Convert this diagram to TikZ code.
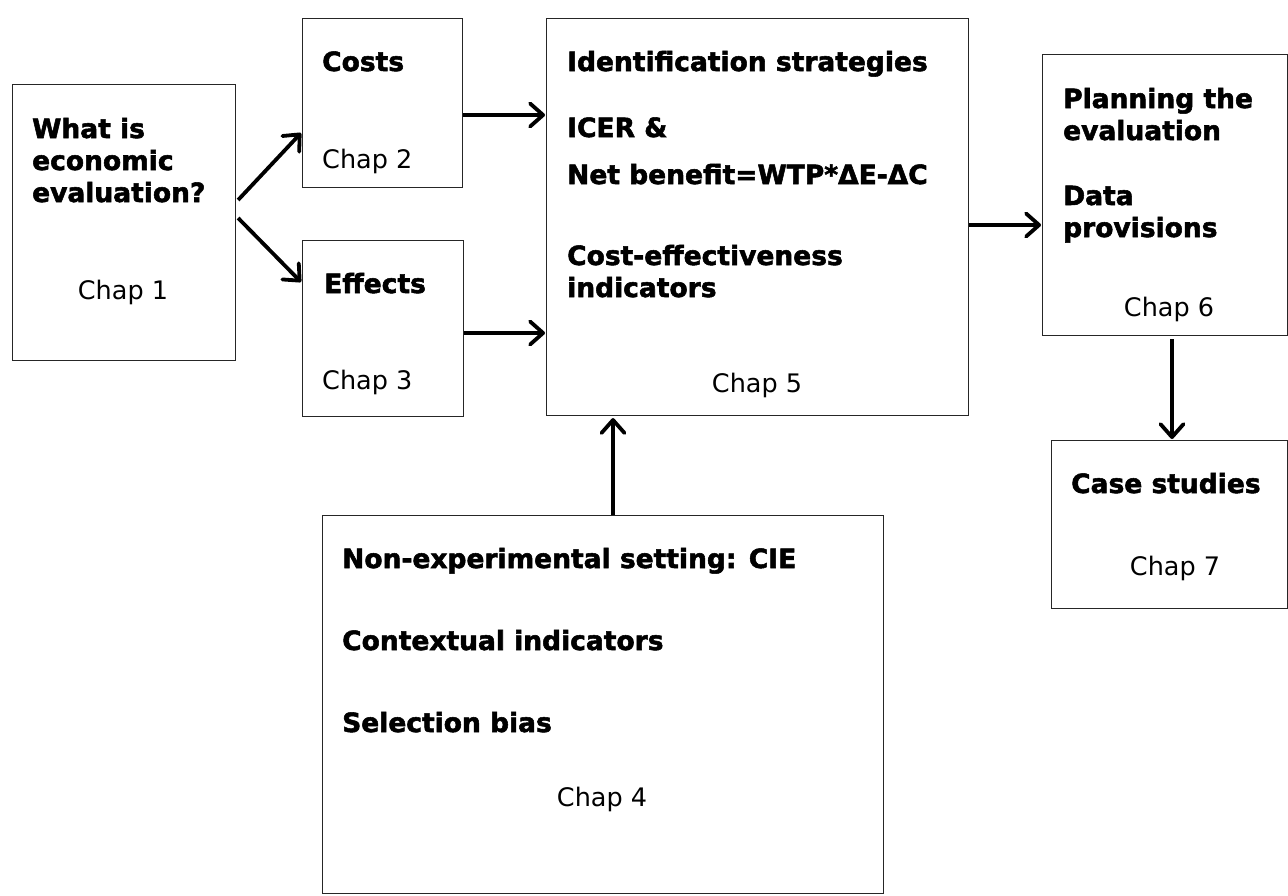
\documentclass[tikz,border=0pt]{standalone}
\usepackage{fontspec}
\setmainfont{DejaVu Sans}[BoldFeatures={FakeBold=2}]
\usetikzlibrary{arrows.meta,calc}
\begin{document}
\begin{tikzpicture}[x=1pt,y=-1pt,
  box/.style={draw=black!85,line width=1.1pt,fill=white,anchor=north west,inner sep=0pt},
  bt/.style={anchor=base west,inner sep=0pt,font=\fontsize{26.5}{32}\selectfont\bfseries},
  ct/.style={anchor=base,inner sep=0pt,font=\fontsize{25.5}{32}\selectfont},
  lt/.style={anchor=base west,inner sep=0pt,font=\fontsize{25.5}{32}\selectfont},
  arr/.style={line width=3.8pt,-{Straight Barb[round,length=13pt,width=23pt,line width=3.8pt]}}]
\useasboundingbox (0,0) rectangle (1288,895);
% boxes
\node[box,minimum width=223pt,minimum height=276pt] (c1) at (12,84) {};
\node[box,minimum width=160pt,minimum height=169pt] (c2) at (302,18) {};
\node[box,minimum width=161pt,minimum height=176pt] (c3) at (302,240) {};
\node[box,minimum width=422pt,minimum height=397pt] (c5) at (546,18) {};
\node[box,minimum width=245pt,minimum height=281pt] (c6) at (1042,54) {};
\node[box,minimum width=236pt,minimum height=168pt] (c7) at (1051,440) {};
\node[box,minimum width=561pt,minimum height=378pt] (c4) at (322,515) {};
% texts box 1
\node[bt] (t1a) at (32,138) {What is};
\node[bt] (t1b) at (32,170) {economic};
\node[bt] (t1c) at (32,202) {evaluation?};
\node[ct] (t1d) at (123,299) {Chap 1};
% box 2
\node[bt] (t2a) at (322,71) {Costs};
\node[lt] (t2b) at (322,168) {Chap 2};
% box 3
\node[bt] (t3a) at (324,293) {Effects};
\node[lt] (t3b) at (322,389) {Chap 3};
% box 5
\node[bt] (t5a) at (567,71) {Identification strategies};
\node[bt] (t5b) at (567,137) {ICER \&};
\node[bt] (t5c) at (567,184) {Net benefit=WTP*ΔE-ΔC};
\node[bt] (t5d) at (567,265) {Cost-effectiveness};
\node[bt] (t5e) at (567,297) {indicators};
\node[ct] (t5f) at (757,392) {Chap 5};
% box 6
\node[bt] (t6a) at (1063,108) {Planning the};
\node[bt] (t6b) at (1063,140) {evaluation};
\node[bt] (t6c) at (1063,205) {Data};
\node[bt] (t6d) at (1063,237) {provisions};
\node[ct] (t6e) at (1169,316) {Chap 6};
% box 7
\node[bt] (t7a) at (1071,493) {Case studies};
\node[ct] (t7b) at (1175,575) {Chap 7};
% box 4
\node[bt] (t4a) at (342,568) {Non-experimental setting: CIE};
\node[bt] (t4b) at (342,650) {Contextual indicators};
\node[bt] (t4c) at (342,732) {Selection bias};
\node[ct] (t4d) at (602,806) {Chap 4};
% connector end points
\coordinate (p1s) at ($(c1.north east)+(2,116)$);
\coordinate (p1e) at ($(c2.north west)+(-1,115)$);
\coordinate (p2s) at ($(c1.north east)+(2,134)$);
\coordinate (p2e) at ($(c3.north west)+(-1,42)$);
\coordinate (p3s) at ($(c2.north east)+(0,97)$);
\coordinate (p3e) at ($(c5.north west)+(-1,97)$);
\coordinate (p4s) at ($(c3.north east)+(0,93)$);
\coordinate (p4e) at ($(c5.north west)+(-1,315)$);
\coordinate (p5s) at ($(c5.north east)+(0,207)$);
\coordinate (p5e) at ($(c6.north west)+(-1,171)$);
\coordinate (p6s) at ($(c6.south west)+(130,3)$);
\coordinate (p6e) at ($(c7.north west)+(121,-1)$);
\coordinate (p7s) at ($(c4.north west)+(291,0)$);
\coordinate (p7e) at ($(c5.south west)+(67,2)$);
\draw[arr] (p1s) -- (p1e);
\draw[arr] (p2s) -- (p2e);
\draw[arr] (p3s) -- (p3e);
\draw[arr] (p4s) -- (p4e);
\draw[arr] (p5s) -- (p5e);
\draw[arr] (p6s) -- (p6e);
\draw[arr] (p7s) -- (p7e);
\end{tikzpicture}
\end{document}
